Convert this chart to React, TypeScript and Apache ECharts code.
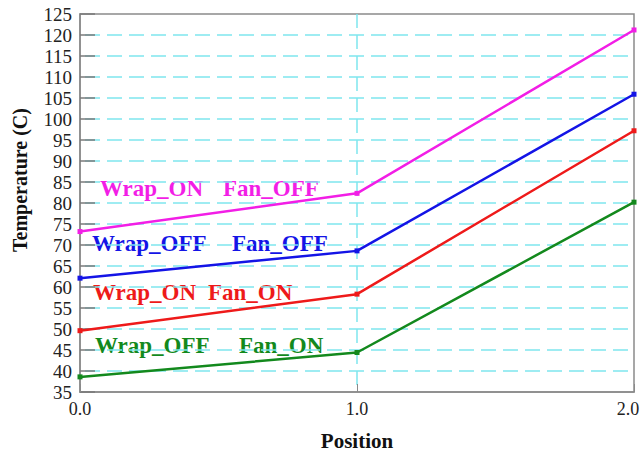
import React, { useEffect, useRef } from "react";
import * as echarts from "echarts";

const positions = [0, 1, 2];
const wrapOnFanOff = [73.2, 82.3, 121.2];
const wrapOffFanOff = [62.1, 68.6, 105.9];
const wrapOnFanOn = [49.6, 58.3, 97.2];
const wrapOffFanOn = [38.6, 44.4, 80.2];

const seriesNames = ["Wrap_ON Fan_OFF", "Wrap_OFF Fan_OFF", "Wrap_ON Fan_ON", "Wrap_OFF Fan_ON"];
const seriesValues = [wrapOnFanOff, wrapOffFanOff, wrapOnFanOn, wrapOffFanOn];
const seriesColors = ["#f21ee6", "#1414e6", "#ee1a1a", "#13891d"];

const FONT = "'Liberation Serif', 'Times New Roman', serif";

export default function App() {
  const ref = useRef<HTMLDivElement>(null);
  useEffect(() => {
    if (!ref.current) return;
    const chart = echarts.init(ref.current, undefined, { renderer: "svg" });
    const labelStyle = (color: string) => ({
      fill: color,
      font: `bold 23px ${FONT}`,
      textVerticalAlign: "middle",
    });
    const mkText = (text: string, x: number, y: number, color: string) => ({
      type: "text",
      x,
      y,
      style: { text, ...labelStyle(color) },
    });
    chart.setOption({
      animation: false,
      backgroundColor: "#ffffff",
      grid: {
        left: 80,
        right: 9,
        top: 14,
        bottom: 63,
        show: true,
        borderColor: "#8a8a8a",
        borderWidth: 1.5,
      },
      xAxis: {
        type: "value",
        min: 0,
        max: 2,
        interval: 1,
        axisLine: { show: true, lineStyle: { color: "#8a8a8a", width: 1.5 } },
        axisTick: { show: true, inside: true, length: 8, lineStyle: { color: "#8a8a8a" } },
        axisLabel: {
          margin: 8,
          color: "#222",
          fontFamily: FONT,
          fontSize: 18,
          formatter: (v: number) => (v === 2 ? "{r|" + v.toFixed(1) + "}" : v.toFixed(1)),
          rich: { r: { fontFamily: FONT, fontSize: 18, color: "#222", padding: [0, 12, 0, 0] } },
        },
        splitLine: {
          show: true,
          showMinLine: false,
          showMaxLine: false,
          lineStyle: { color: "#7fe6ee", type: [14, 7], width: 1.5 },
        },
      },
      yAxis: {
        type: "value",
        min: 35,
        max: 125,
        interval: 5,
        axisLine: { show: true, lineStyle: { color: "#8a8a8a", width: 1.5 } },
        axisTick: { show: true, inside: true, length: 15, lineStyle: { color: "#7a7a7a", width: 1.5 } },
        axisLabel: { margin: 8, color: "#222", fontFamily: FONT, fontSize: 19 },
        splitLine: {
          show: true,
          showMinLine: false,
          showMaxLine: false,
          lineStyle: { color: "#7fe6ee", type: [15, 7], dashOffset: -5, width: 1.5 },
        },
      },
      series: seriesValues.map((vals, i) => ({
        name: seriesNames[i],
        type: "line",
        data: positions.map((p, j) => [p, vals[j]]),
        symbol: "rect",
        symbolSize: 5,
        showSymbol: true,
        lineStyle: { color: seriesColors[i], width: 2.5 },
        itemStyle: { color: seriesColors[i] },
      })),
      graphic: [
        mkText("Wrap_ON", 100, 188, seriesColors[0]),
        mkText("Fan_OFF", 223, 188, seriesColors[0]),
        mkText("Wrap_OFF", 92, 243, seriesColors[1]),
        mkText("Fan_OFF", 232, 243, seriesColors[1]),
        mkText("Wrap_ON", 93, 292, seriesColors[2]),
        mkText("Fan_ON", 208, 292, seriesColors[2]),
        mkText("Wrap_OFF", 95, 345, seriesColors[3]),
        mkText("Fan_ON", 239, 345, seriesColors[3]),
        {
          type: "text",
          x: 20,
          y: 180,
          rotation: Math.PI / 2,
          style: {
            text: "Temperature (C)",
            fill: "#111",
            font: `bold 20px ${FONT}`,
            textAlign: "center",
            textVerticalAlign: "middle",
          },
        },
        {
          type: "text",
          x: 357,
          y: 441,
          style: {
            text: "Position",
            fill: "#111",
            font: `bold 21px ${FONT}`,
            textAlign: "center",
            textVerticalAlign: "middle",
          },
        },
      ],
    });
    return () => chart.dispose();
  }, []);
  return (
    <div
      ref={ref}
      style={{ position: "fixed", left: 0, top: 0, width: 643, height: 455, background: "#fff" }}
    />
  );
}
